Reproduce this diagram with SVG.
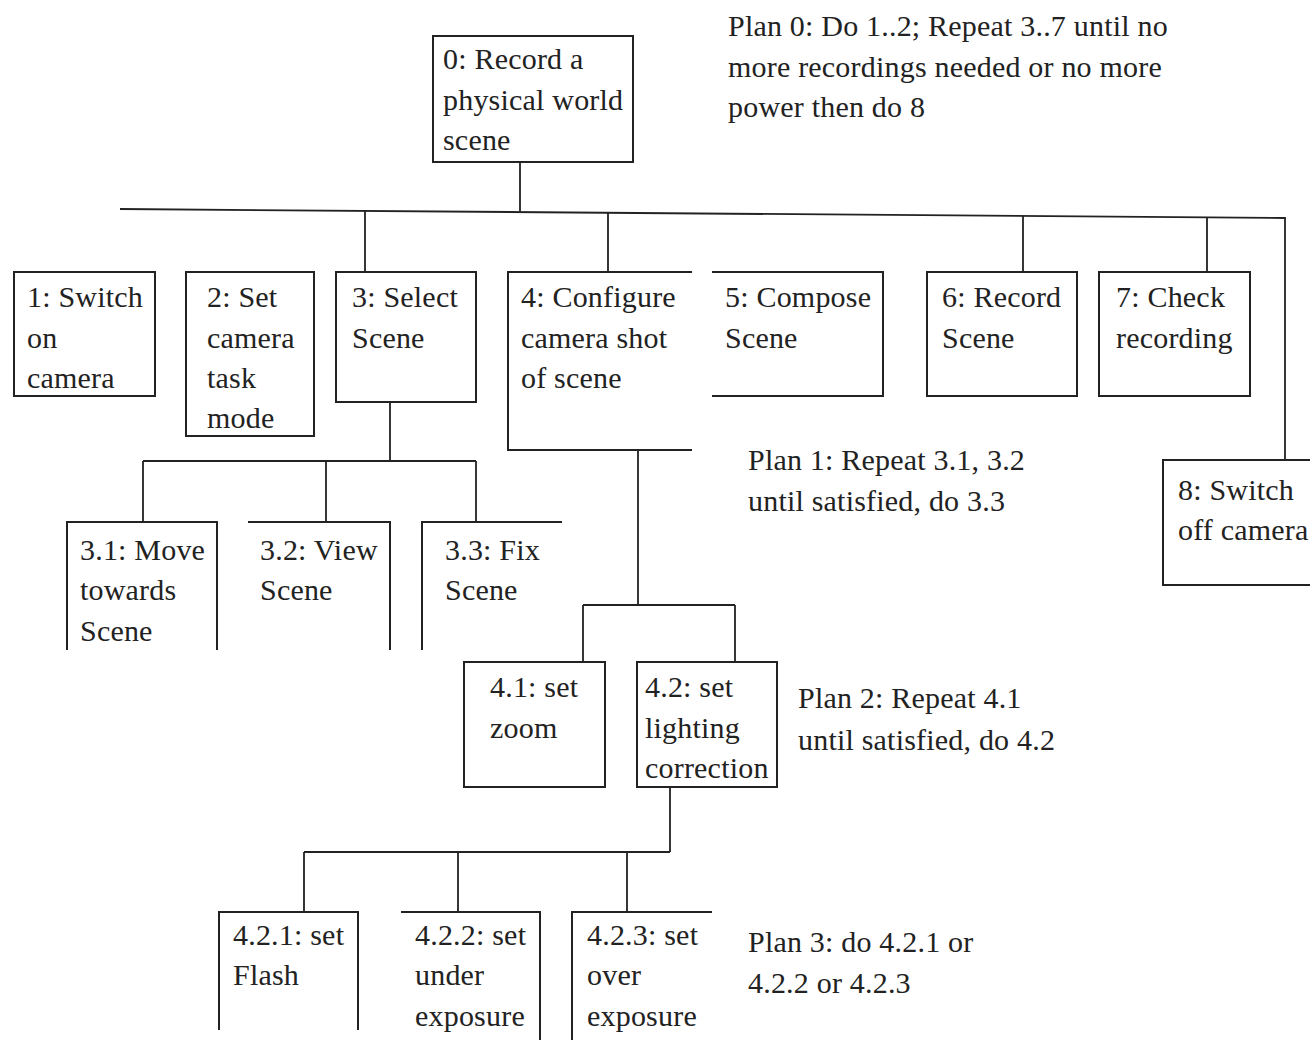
<svg xmlns="http://www.w3.org/2000/svg" width="1310" height="1040" viewBox="0 0 1310 1040">
<style>
text{font-family:"Liberation Serif","Times New Roman",serif;font-size:30px;letter-spacing:0.2px;fill:#222}
.b{fill:none;stroke:#222;stroke-width:2}
.c{fill:none;stroke:#222;stroke-width:1.8}
</style>
<rect width="1310" height="1040" fill="#fff"/>
<g id="connectors">
<path class="c" d="M520 162V211M120 209L1285 218V460"/>
<path class="c" d="M365 211V272M608 212V272M1023 216V272M1207 217V272"/>
<path class="c" d="M390 402V461M143 461H476M143 461V522M326 461V522M476 461V522"/>
<path class="c" d="M638 450V605M583 605H735M583 605V662M735 605V662"/>
<path class="c" d="M670 787V852M304 852H670M304 852V912M458 852V912M627 852V912"/>
</g>
<g id="n0"><rect class="b" x="433" y="36" width="200" height="126"/><text x="443" y="69">0: Record a</text><text x="443" y="110">physical world</text><text x="443" y="150">scene</text></g>
<g id="plan0"><text x="728" y="36">Plan 0: Do 1..2; Repeat 3..7 until no</text><text x="728" y="77">more recordings needed or no more</text><text x="728" y="117">power then do 8</text></g>
<g id="n1"><rect class="b" x="14" y="272" width="141" height="124"/><text x="27" y="307">1: Switch</text><text x="27" y="348">on</text><text x="27" y="388">camera</text></g>
<g id="n2"><rect class="b" x="186" y="272" width="128" height="164"/><text x="207" y="307">2: Set</text><text x="207" y="348">camera</text><text x="207" y="388">task</text><text x="207" y="428">mode</text></g>
<g id="n3"><rect class="b" x="336" y="272" width="140" height="130"/><text x="352" y="307">3: Select</text><text x="352" y="348">Scene</text></g>
<g id="n4"><path class="b" d="M692 272H508V450H692"/><text x="521" y="307">4: Configure</text><text x="521" y="348">camera shot</text><text x="521" y="388">of scene</text></g>
<g id="n5"><path class="b" d="M712 272H883V396H712"/><text x="725" y="307">5: Compose</text><text x="725" y="348">Scene</text></g>
<g id="n6"><rect class="b" x="927" y="272" width="150" height="124"/><text x="942" y="307">6: Record</text><text x="942" y="348">Scene</text></g>
<g id="n7"><rect class="b" x="1099" y="272" width="151" height="124"/><text x="1116" y="307">7: Check</text><text x="1116" y="348">recording</text></g>
<g id="n8"><path class="b" d="M1312 460H1163V585H1312"/><text x="1178" y="500">8: Switch</text><text x="1178" y="540">off camera</text></g>
<g id="plan1"><text x="748" y="470">Plan 1: Repeat 3.1, 3.2</text><text x="748" y="511">until satisfied, do 3.3</text></g>
<g id="n31"><path class="b" d="M67 650V522H217V650"/><text x="80" y="560">3.1: Move</text><text x="80" y="600">towards</text><text x="80" y="641">Scene</text></g>
<g id="n32"><path class="b" d="M248 522H390V650"/><text x="260" y="560">3.2: View</text><text x="260" y="600">Scene</text></g>
<g id="n33"><path class="b" d="M422 650V522H562"/><text x="445" y="560">3.3: Fix</text><text x="445" y="600">Scene</text></g>
<g id="n41"><rect class="b" x="464" y="662" width="141" height="125"/><text x="490" y="697">4.1: set</text><text x="490" y="738">zoom</text></g>
<g id="n42"><rect class="b" x="637" y="662" width="140" height="125"/><text x="645" y="697">4.2: set</text><text x="645" y="738">lighting</text><text x="645" y="778">correction</text></g>
<g id="plan2"><text x="798" y="708">Plan 2: Repeat 4.1</text><text x="798" y="750">until satisfied, do 4.2</text></g>
<g id="n421"><path class="b" d="M219 1030V912H358V1030"/><text x="233" y="945">4.2.1: set</text><text x="233" y="985">Flash</text></g>
<g id="n422"><path class="b" d="M401 912H540V1040"/><text x="415" y="945">4.2.2: set</text><text x="415" y="985">under</text><text x="415" y="1026">exposure</text></g>
<g id="n423"><path class="b" d="M572 1040V912H712"/><text x="587" y="945">4.2.3: set</text><text x="587" y="985">over</text><text x="587" y="1026">exposure</text></g>
<g id="plan3"><text x="748" y="952">Plan 3: do 4.2.1 or</text><text x="748" y="993">4.2.2 or 4.2.3</text></g>
</svg>
